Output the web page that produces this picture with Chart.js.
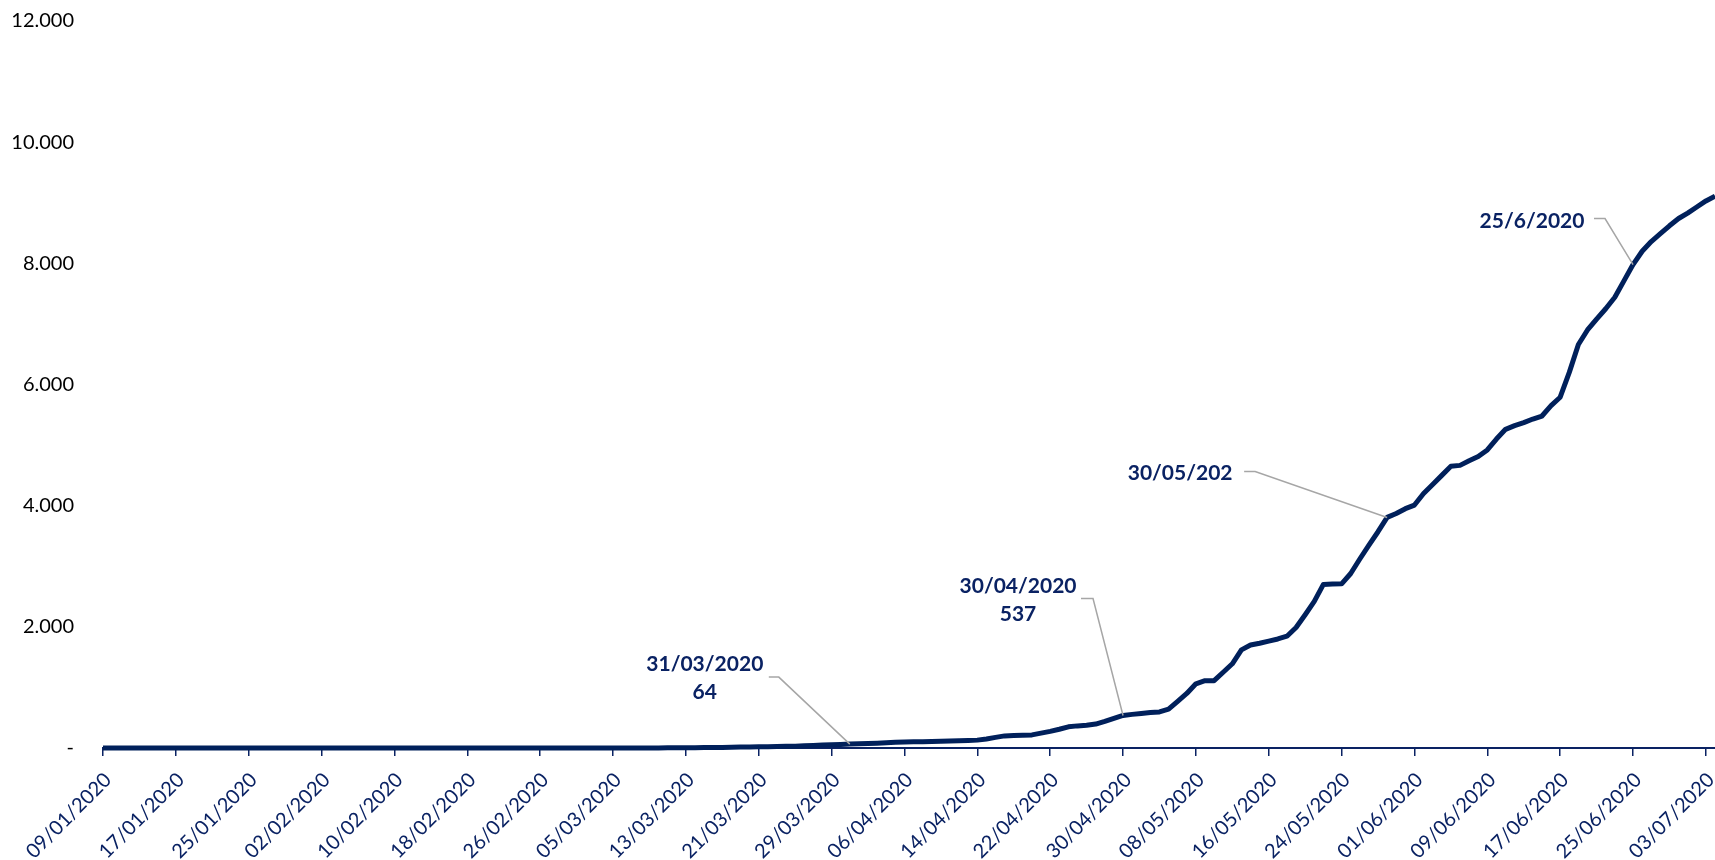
<!DOCTYPE html>
<html>
<head>
<meta charset="utf-8">
<script src="https://cdn.jsdelivr.net/npm/chart.js@4.4.1/dist/chart.umd.min.js"></script>
<style>
  html,body{margin:0;padding:0;background:#fff;}
  #wrap{width:1715px;height:860px;position:relative;}
</style>
</head>
<body>
<div id="wrap"><canvas id="c"></canvas></div>
<script>
// first day on the axis, one category per day
const startDate = [2020, 0, 9];
const dayCount = 178;

// cumulative value per day, index 0 = 09/01/2020
const values = [
  0,0,0,0,0,0,0,0,0,0,            // 0-9
  0,0,0,0,0,0,0,0,0,0,            // 10-19
  0,0,0,0,0,0,0,0,0,0,            // 20-29
  0,0,0,0,0,0,0,0,0,0,            // 30-39
  0,0,0,0,0,0,0,0,0,0,            // 40-49
  0,0,0,0,0,0,0,0,0,0,            // 50-59
  1,2,3,4,5,6,7,8,10,12,          // 60-69
  15,17,19,21,24,27,30,36,42,48,  // 70-79
  54,59,64,70,75,80,88,95,100,103,      // 80-89
  105,108,112,116,120,125,130,150,175,200, // 90-99
  205,210,216,245,275,310,350,365,375,395, // 100-109
  440,490,537,555,570,585,595,640,770,900, // 110-119
  1060,1111,1111,1250,1390,1620,1700,1730,1765,1800, // 120-129
  1845,1990,2200,2420,2700,2705,2710,2880,3120,3350, // 130-139
  3570,3806,3870,3950,4010,4200,4350,4500,4650,4665, // 140-149
  4740,4810,4920,5100,5260,5320,5370,5430,5480,5650, // 150-159
  5790,6200,6660,6900,7080,7250,7440,7710,7980,8200, // 160-169
  8360,8490,8620,8740,8830,8930,9030,9110            // 170-177
];

// tick labels shown under the axis (every 8th day)
const tickLabels = ['09/01/2020','17/01/2020','25/01/2020','02/02/2020','10/02/2020','18/02/2020',
  '26/02/2020','05/03/2020','13/03/2020','21/03/2020','29/03/2020','06/04/2020','14/04/2020',
  '22/04/2020','30/04/2020','08/05/2020','16/05/2020','24/05/2020','01/06/2020','09/06/2020',
  '17/06/2020','25/06/2020','03/07/2020'];
const tickStep = 8;

const yTicks = [0, 2000, 4000, 6000, 8000, 10000, 12000];

// callouts: day index, text lines
const noteIdx = [82, 112, 141, 168];
const noteText = [['31/03/2020','64'], ['30/04/2020','537'], ['30/05/202'], ['25/6/2020']];
// offsets from the point: elbow start x, elbow end x, elbow y, text x, first text line y
const noteOffs = [
  [-81, -71, -67, -145, -80],
  [-42, -30, -117, -105, -129],
  [-143, -132, -46, -207, -44],
  [-39, -28, -46, -101, -43]
];

const NAVY = '#0a2263';
const LINE = '#00205b';

const labels = [];
for(let i=0;i<dayCount;i++){
  const d = new Date(startDate[0], startDate[1], startDate[2]+i);
  labels.push(String(d.getDate()).padStart(2,'0')+'/'+String(d.getMonth()+1).padStart(2,'0')+'/'+d.getFullYear());
}

const calloutPlugin = {
  id:'callouts',
  afterDatasetsDraw(chart){
    const ctx = chart.ctx;
    const xs = chart.scales.x, ys = chart.scales.y;
    ctx.save();
    noteIdx.forEach((idx,k)=>{
      const px = xs.getPixelForValue(idx);
      const py = ys.getPixelForValue(values[idx]);
      const o = noteOffs[k];
      ctx.strokeStyle = '#a6a6a6';
      ctx.lineWidth = 1.5;
      ctx.beginPath();
      ctx.moveTo(px+o[0], py+o[2]);
      ctx.lineTo(px+o[1], py+o[2]);
      ctx.lineTo(px, py);
      ctx.stroke();
      ctx.fillStyle = NAVY;
      ctx.font = 'bold 21px Lato';
      ctx.textAlign = 'center';
      ctx.textBaseline = 'middle';
      noteText[k].forEach((t,j)=>{
        ctx.fillText(t, px+o[3], py+o[4]+j*28);
      });
    });
    ctx.restore();
  }
};

new Chart(document.getElementById('c'), {
  type:'line',
  data:{
    labels: labels,
    datasets:[{
      data: values,
      borderColor: LINE,
      borderWidth: 5,
      pointRadius: 0,
      tension: 0,
      fill: false,
      borderJoinStyle: 'round',
      clip: false
    }]
  },
  options:{
    responsive:true,
    maintainAspectRatio:false,
    animation:false,
    layout:{padding:{top:0,right:0,left:0,bottom:0}},
    plugins:{legend:{display:false}, tooltip:{enabled:false}},
    scales:{
      x:{
        type:'category',
        offset:false,
        border:{display:true, color:NAVY, width:2},
        grid:{
          drawOnChartArea:false,
          drawTicks:true,
          tickLength:8,
          lineWidth:1.5,
          color:(c)=> (c.index % tickStep === 0 ? NAVY : 'rgba(0,0,0,0)')
        },
        ticks:{
          autoSkip:false,
          maxRotation:45,
          minRotation:45,
          padding:12,
          labelOffset:5,
          color:NAVY,
          font:{family:'Lato', size:20},
          callback:function(val, i){ return i % tickStep === 0 ? tickLabels[i/tickStep] : ''; }
        },
        afterFit:function(s){ s.height = 112; s.paddingLeft = 0; s.paddingRight = 0; }
      },
      y:{
        min:0, max:12000,
        afterBuildTicks:function(s){ s.ticks = yTicks.map(v=>({value:v})); },
        border:{display:false},
        grid:{display:false, drawTicks:false},
        ticks:{
          padding:29,
          color:'#000',
          font:{family:'Lato', size:20},
          callback:function(v){ return v === 0 ? '-' : v.toLocaleString('de-DE'); }
        },
        afterFit:function(s){ s.width = 103; s.paddingTop = 21; s.paddingBottom = 0; }
      }
    }
  },
  plugins:[calloutPlugin]
});
</script>
</body>
</html>
